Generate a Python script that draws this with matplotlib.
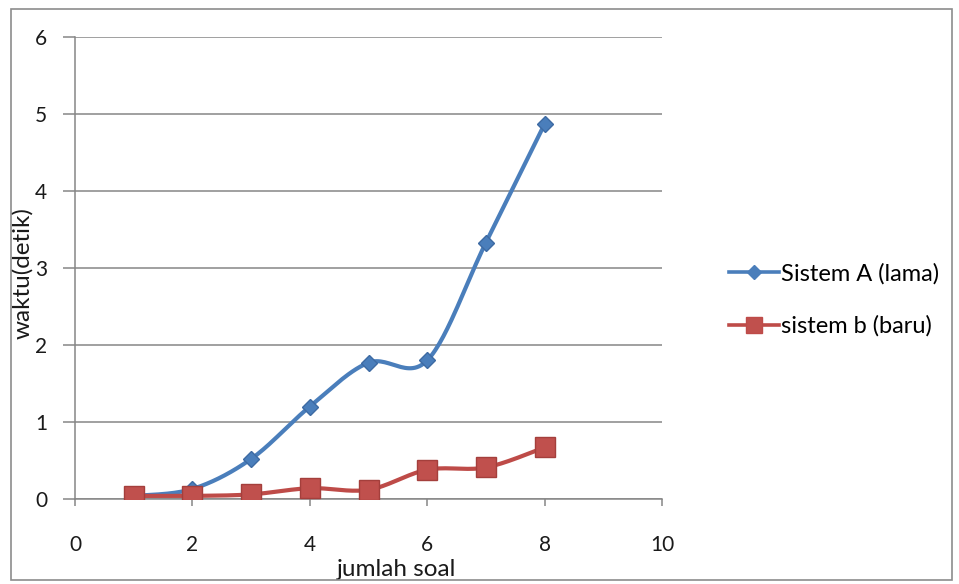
import numpy as np
import matplotlib
matplotlib.use("Agg")
import matplotlib.pyplot as plt
from matplotlib.patches import Rectangle
from matplotlib.lines import Line2D

# Data
jumlah_soal = [1, 2, 3, 4, 5, 6, 7, 8]
sistem_a = [0.04, 0.13, 0.52, 1.20, 1.77, 1.80, 3.33, 4.87]
sistem_b = [0.04, 0.04, 0.06, 0.14, 0.12, 0.38, 0.41, 0.67]
label_a = "Sistem A (lama)"
label_b = "sistem b (baru)"
x_ticks = [0, 2, 4, 6, 8, 10]
y_ticks = [0, 1, 2, 3, 4, 5, 6]

FONT = "Lato"
plt.rcParams["font.family"] = [FONT, "DejaVu Sans"]


def smooth(xs, ys, n=30):
    """Bezier smoothing through every point (spreadsheet-style smoothed line)."""
    xs = np.asarray(xs, float)
    ys = np.asarray(ys, float)
    px = np.concatenate([[xs[0]], xs, [xs[-1]]])
    py = np.concatenate([[ys[0]], ys, [ys[-1]]])
    out_x, out_y = [], []
    t = np.linspace(0, 1, n)
    for i in range(1, len(px) - 2):
        p0 = np.array([px[i], py[i]])
        p3 = np.array([px[i + 1], py[i + 1]])
        c1 = p0 + (np.array([px[i + 1], py[i + 1]]) - np.array([px[i - 1], py[i - 1]])) / 6
        c2 = p3 - (np.array([px[i + 2], py[i + 2]]) - np.array([px[i], py[i]])) / 6
        b = ((1 - t) ** 3)[:, None] * p0 + (3 * (1 - t) ** 2 * t)[:, None] * c1 \
            + (3 * (1 - t) * t ** 2)[:, None] * c2 + (t ** 3)[:, None] * p3
        out_x.extend(b[:, 0])
        out_y.extend(b[:, 1])
    return np.array(out_x), np.array(out_y)


fig = plt.figure(figsize=(9.59, 5.84), dpi=100)
fig.patch.set_facecolor("white")

# outer chart frame
fig.add_artist(Rectangle((0.011, 0.006), 0.982, 0.978, transform=fig.transFigure,
                         fill=False, edgecolor="#8c8c8c", linewidth=1.2, zorder=5))

ax = fig.add_axes([75 / 959, 1 - 499 / 584, (662 - 75) / 959, (499 - 37) / 584])
ax.set_facecolor("none")
ax.set_xlim(0, 10)
ax.set_ylim(0, 6)

for y in y_ticks:
    ax.axhline(y, color="#868686", linewidth=1.1, zorder=1)

col_a = "#4a7ebb"
col_b = "#be4b48"
sx, sy = smooth(jumlah_soal, sistem_a)
ax.plot(sx, sy, color=col_a, linewidth=3.0, zorder=3)
ax.plot(jumlah_soal, sistem_a, linestyle="none", marker="D", markersize=8.5,
        color=col_a, markeredgecolor="#3d6aa3", zorder=4)
bx, by = smooth(jumlah_soal, sistem_b)
ax.plot(bx, by, color=col_b, linewidth=3.0, zorder=3)
ax.plot(jumlah_soal, sistem_b, linestyle="none", marker="s", markersize=14,
        color="#c0504d", markeredgecolor="#a43f3c", zorder=4)

for s in ["top", "right"]:
    ax.spines[s].set_visible(False)
for s in ["left", "bottom"]:
    ax.spines[s].set_color("#868686")
    ax.spines[s].set_linewidth(1.1)

ax.set_xticks(x_ticks)
ax.set_yticks(y_ticks)
ax.tick_params(axis="x", length=5, width=1.1, color="#868686", pad=21,
               labelsize=15, labelcolor="#1a1a1a")
ax.tick_params(axis="y", length=9, width=1.1, color="#868686", pad=11,
               labelsize=15, labelcolor="#1a1a1a")

fig.text(397 / 959, 1 - 569 / 584, "jumlah soal", fontsize=17.5,
         color="#1a1a1a", ha="center", va="center")
fig.text(22 / 959, 1 - 273 / 584, "waktu(detik)", fontsize=17.5,
         color="#1a1a1a", ha="center", va="center", rotation=90)

# legend
handles = [
    Line2D([], [], color=col_a, linewidth=2.6, marker="D", markersize=7),
    Line2D([], [], color=col_b, linewidth=2.6, marker="s", markersize=11,
           markerfacecolor="#c0504d"),
]
fig.legend(handles, [label_a, label_b], loc="center left",
           bbox_to_anchor=(708 / 959, 1 - 300 / 584), frameon=False,
           fontsize=17, handlelength=2.1, handletextpad=0.1,
           labelspacing=1.3)

fig.savefig("out.png", dpi=100, facecolor="white")
